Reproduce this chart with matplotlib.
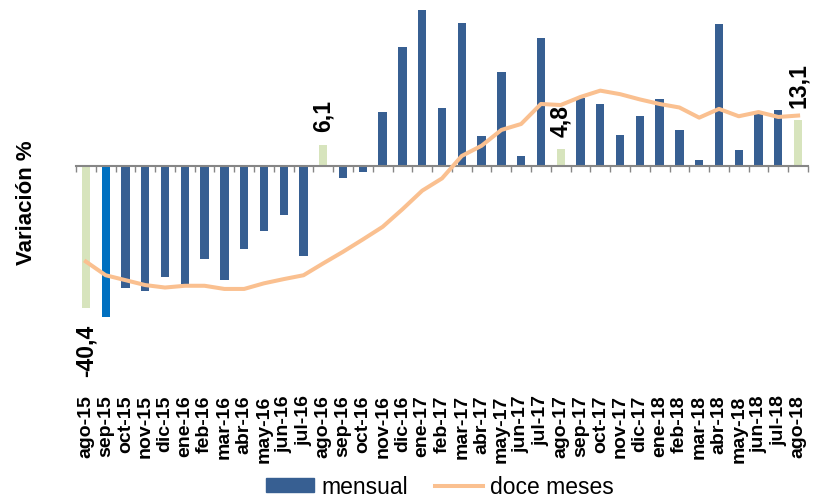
import numpy as np
import matplotlib.pyplot as plt
from matplotlib.patches import Patch
from matplotlib.lines import Line2D

plt.rcParams['font.family'] = ['Liberation Sans', 'DejaVu Sans']

# meses (ago-15 .. ago-18)
meses = ['ago-15', 'sep-15', 'oct-15', 'nov-15', 'dic-15', 'ene-16', 'feb-16', 'mar-16',
         'abr-16', 'may-16', 'jun-16', 'jul-16', 'ago-16', 'sep-16', 'oct-16', 'nov-16',
         'dic-16', 'ene-17', 'feb-17', 'mar-17', 'abr-17', 'may-17', 'jun-17', 'jul-17',
         'ago-17', 'sep-17', 'oct-17', 'nov-17', 'dic-17', 'ene-18', 'feb-18', 'mar-18',
         'abr-18', 'may-18', 'jun-18', 'jul-18', 'ago-18']

# variacion mensual (%)
mensual = [-40.4, -43.0, -34.6, -35.6, -31.7, -33.5, -26.5, -32.5,
           -23.5, -18.6, -13.9, -25.7, 6.1, -3.5, -1.7, 15.5,
           33.8, 44.6, 16.5, 40.8, 8.6, 26.9, 2.9, 36.5,
           4.8, 19.5, 17.7, 9.0, 14.3, 19.0, 10.4, 1.6,
           40.4, 4.7, 15.0, 16.0, 13.1]

# variacion doce meses (%)
doce_meses = [-27.2, -31.1, -32.5, -33.9, -34.6, -34.1, -34.1, -35.0,
              -35.0, -33.4, -32.2, -31.1, -27.7, -24.4, -20.9, -17.3,
              -12.3, -7.0, -3.5, 2.9, 5.8, 10.3, 12.0, 17.7,
              17.4, 19.7, 21.5, 20.5, 19.0, 17.7, 16.7, 13.8,
              16.3, 14.2, 15.4, 14.0, 14.4]

# barras con etiqueta
etiquetas = {0: '-40,4', 12: '6,1', 24: '4,8', 36: '13,1'}

azul = '#375F92'
azul_claro = '#0070C0'
verde = '#D7E4BD'
naranja = '#FAC090'

x = np.arange(len(meses))
colores = [azul] * len(meses)
for i in etiquetas:
    colores[i] = verde
colores[1] = azul_claro

fig = plt.figure(figsize=(8.21, 5.0), dpi=100)
ax = fig.add_axes([76 / 821, 0.34, 732 / 821, 0.65])

ax.bar(x, mensual, width=0.42, color=colores, zorder=2)
ax.plot(x, doce_meses, color=naranja, lw=2.9, zorder=3)

for i, txt in etiquetas.items():
    v = mensual[i]
    if v >= 0:
        ax.annotate(txt, (x[i], v), xytext=(0, 9), textcoords='offset points',
                    rotation=90, ha='center', va='bottom', fontsize=16.5, fontweight='bold')
    else:
        ax.annotate(txt, (x[i], v), xytext=(0, -12), textcoords='offset points',
                    rotation=90, ha='center', va='top', fontsize=16.5, fontweight='bold')

ax.set_xlim(-0.5, 36.5)
ax.set_ylim(-46.7, 45.9)

for s in ['top', 'right', 'left']:
    ax.spines[s].set_visible(False)
ax.spines['bottom'].set_position(('data', 0))
ax.spines['bottom'].set_color('#868686')
ax.spines['bottom'].set_linewidth(1.5)

ax.set_yticks([])
ax.set_xticks(x)
ax.set_xticklabels(meses, rotation=90, fontsize=14, fontweight='bold')
ax.set_xticks(np.arange(-0.5, 37, 1), minor=True)
ax.tick_params(axis='x', which='major', length=0, pad=165)
ax.tick_params(axis='x', which='minor', length=4, width=1, color='#868686', direction='out')

fig.text(27 / 821, 1 - 203 / 500, 'Variación %', rotation=90, ha='center', va='center',
         fontsize=16, fontweight='bold')

handles = [Patch(color=azul), Line2D([0], [0], color=naranja, lw=2.9)]
fig.legend(handles, ['mensual', 'doce meses'], loc='center', ncol=2, frameon=False,
           bbox_to_anchor=(440 / 821, 13 / 500), fontsize=16.5, handlelength=2.1,
           handleheight=0.55, columnspacing=1.2, handletextpad=0.3)

fig.savefig('out.png', dpi=100)
